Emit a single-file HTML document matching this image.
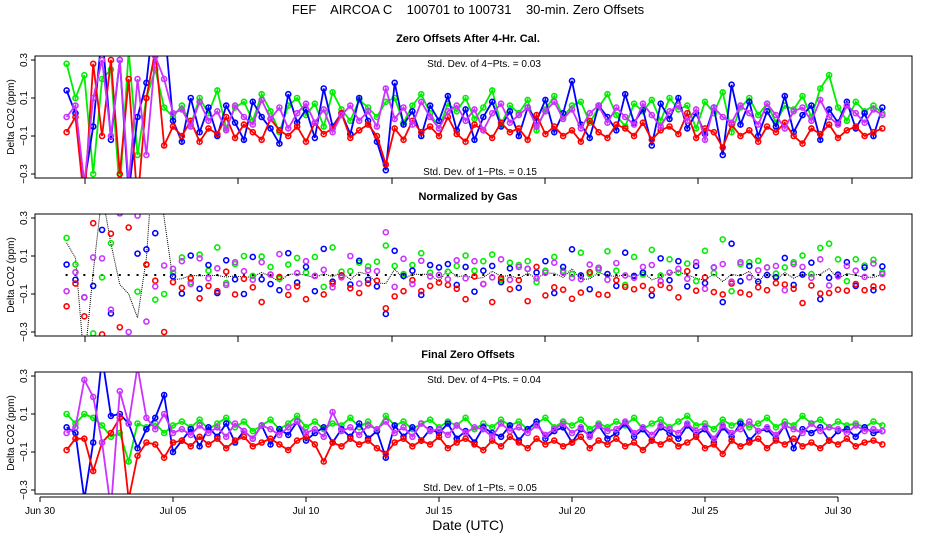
<!DOCTYPE html>
<html><head><meta charset="utf-8"><style>
body{margin:0;background:#fff;}
svg{display:block;font-family:"Liberation Sans",sans-serif;}
#main-title{white-space:pre;}
</style></head><body>
<svg id="chart" width="936" height="540" viewBox="0 0 936 540">
<text id="main-title" x="468" y="14" font-size="13" text-anchor="middle" xml:space="preserve">FEF    AIRCOA C    100701 to 100731    30-min. Zero Offsets</text>
<text x="468" y="530" font-size="14" text-anchor="middle">Date (UTC)</text>
</svg>
<script>
const startDay = 1.0, stepDay = 1/3;
const xTickLabels = ["Jun 30","Jul 05","Jul 10","Jul 15","Jul 20","Jul 25","Jul 30"];
const xTickDays = [0,5,10,15,20,25,30];
const yTicks = [0.3,0.1,-0.1,-0.3];
const yTickLabels = ["0.3","0.1","\u22120.1","\u22120.3"];
const blue1 = [0.14,0.02,-0.35,-0.05,0.45,-0.12,0.3,-0.4,0.0,0.18,0.6,0.5,-0.02,-0.13,0.1,-0.08,0.05,-0.1,0.06,-0.03,-0.12,0.08,0.0,-0.06,-0.14,0.12,-0.03,0.04,-0.11,0.15,-0.05,0.02,-0.09,0.1,-0.02,-0.13,-0.28,0.18,-0.04,0.03,-0.1,0.06,-0.02,0.11,-0.07,0.04,-0.12,0.0,0.08,-0.05,0.03,-0.1,0.05,-0.02,0.09,-0.08,0.02,0.19,-0.04,-0.11,0.06,0.0,-0.07,0.12,-0.03,0.04,-0.15,0.07,-0.01,0.1,-0.06,0.02,-0.09,0.05,-0.2,0.17,-0.04,0.08,-0.1,0.03,-0.05,0.11,-0.08,0.01,0.06,-0.12,0.04,-0.03,0.08,-0.06,0.02,-0.1,0.05];
const green1 = [0.28,0.1,0.22,-0.3,0.2,0.25,-0.4,0.35,-0.2,0.1,0.25,0.05,0.0,0.06,-0.04,0.1,0.02,0.14,-0.06,0.05,0.08,-0.02,0.12,0.03,-0.08,0.06,0.1,0.01,0.07,-0.05,0.13,0.04,-0.02,0.09,0.05,0.0,0.08,0.1,-0.03,0.06,0.12,0.02,-0.06,0.07,0.03,0.1,-0.01,0.05,0.14,-0.04,0.06,0.02,0.09,-0.07,0.04,0.11,0.0,0.06,0.08,-0.03,0.05,0.12,0.01,-0.05,0.07,0.03,0.09,-0.02,0.1,0.04,0.06,-0.06,0.08,0.02,0.13,-0.08,0.05,0.1,0.01,0.07,-0.03,0.06,0.04,0.11,0.0,0.15,0.22,0.05,-0.02,0.08,0.03,0.06,0.02];
const red1 = [-0.08,0.0,-0.45,0.28,-0.1,0.3,-0.3,0.2,-0.45,0.1,0.35,-0.15,-0.05,-0.1,-0.02,-0.13,-0.06,-0.09,0.0,-0.11,-0.04,-0.08,-0.12,-0.01,-0.07,-0.1,-0.05,-0.13,-0.03,-0.09,-0.06,0.02,-0.11,-0.07,-0.04,-0.1,-0.25,-0.06,-0.12,-0.02,-0.08,-0.05,-0.1,0.0,-0.09,-0.13,-0.04,-0.07,-0.11,-0.03,-0.08,-0.06,-0.12,0.01,-0.09,-0.05,-0.1,-0.07,-0.13,-0.02,-0.08,-0.11,-0.04,-0.06,-0.1,-0.03,-0.12,-0.07,-0.05,-0.09,0.02,-0.11,-0.06,-0.08,-0.16,-0.04,-0.1,-0.07,-0.13,-0.05,-0.08,-0.03,-0.1,-0.14,-0.06,-0.09,-0.04,-0.11,-0.07,-0.05,-0.1,-0.08,-0.06];
const magenta1 = [0.0,0.06,-0.35,0.1,0.3,-0.1,0.3,-0.35,0.2,-0.2,0.32,0.2,0.02,0.04,-0.05,0.08,-0.02,0.03,-0.07,0.06,0.0,-0.04,0.09,-0.01,0.05,-0.06,0.02,0.07,-0.03,0.04,-0.08,0.01,0.06,-0.02,0.03,-0.05,0.15,-0.01,0.05,-0.04,0.08,0.0,-0.06,0.03,0.06,-0.02,0.04,-0.07,0.02,0.07,-0.03,0.01,0.05,-0.05,0.03,0.08,-0.01,0.04,-0.06,0.02,0.06,-0.03,0.05,0.0,-0.04,0.07,0.01,-0.05,0.03,0.06,-0.02,0.04,-0.12,0.05,0.0,-0.03,0.06,0.02,-0.04,0.07,0.01,-0.06,0.03,0.05,-0.02,0.09,0.0,-0.04,0.06,0.02,-0.03,0.04,0.01];
const blue3 = [0.03,0.0,-0.35,-0.05,0.4,0.09,0.1,0.05,-0.08,0.02,0.08,0.2,-0.1,-0.04,0.02,-0.07,0.03,-0.02,0.05,-0.05,0.01,-0.03,0.04,-0.06,0.02,-0.01,0.06,-0.04,0.0,0.03,-0.05,0.02,-0.02,0.05,-0.03,0.01,-0.13,0.04,-0.02,0.03,-0.04,0.02,0.0,0.05,-0.03,0.01,-0.05,0.03,0.0,-0.02,0.04,-0.04,0.02,0.06,-0.03,0.01,0.03,-0.05,0.02,-0.01,0.04,-0.03,0.0,0.05,-0.02,0.02,-0.04,0.03,0.0,-0.03,0.04,-0.01,0.02,-0.05,0.03,-0.02,0.05,-0.04,0.01,0.02,-0.03,0.04,-0.08,0.02,0.0,0.03,-0.04,0.01,0.02,-0.02,0.03,0.0,0.01];
const green3 = [0.1,0.05,0.1,0.08,0.04,-0.02,0.0,-0.15,0.05,0.03,0.05,0.0,0.04,0.06,0.03,0.07,0.02,0.05,0.08,0.03,0.06,0.01,0.04,0.07,0.02,0.05,0.09,0.03,0.06,0.02,0.05,0.04,0.08,0.03,0.06,0.01,0.09,0.04,0.06,0.02,0.05,0.07,0.03,0.06,0.04,0.08,0.02,0.05,0.03,0.07,0.04,0.06,0.02,0.05,0.08,0.03,0.06,0.04,0.07,0.02,0.05,0.03,0.06,0.04,0.08,0.02,0.05,0.07,0.03,0.06,0.09,0.04,0.05,0.02,0.07,0.04,0.06,0.03,0.05,0.08,0.03,0.06,0.04,0.09,0.05,0.07,0.03,0.06,0.04,0.05,0.03,0.06,0.04];
const red3 = [-0.09,-0.03,-0.03,-0.2,-0.05,0.0,0.08,-0.35,-0.12,-0.05,-0.06,-0.13,-0.05,-0.04,-0.07,-0.02,-0.06,-0.03,-0.08,-0.04,-0.02,-0.07,-0.05,-0.03,-0.06,-0.09,-0.04,-0.02,-0.06,-0.15,-0.05,-0.07,-0.03,-0.06,-0.04,-0.08,-0.11,-0.05,-0.03,-0.07,-0.04,-0.06,-0.02,-0.08,-0.05,-0.03,-0.06,-0.09,-0.04,-0.07,-0.02,-0.05,-0.08,-0.03,-0.06,-0.04,-0.07,-0.05,-0.02,-0.08,-0.04,-0.06,-0.03,-0.07,-0.05,-0.09,-0.04,-0.06,-0.03,-0.07,-0.05,-0.02,-0.08,-0.06,-0.11,-0.04,-0.07,-0.05,-0.03,-0.08,-0.04,-0.06,-0.03,-0.07,-0.05,-0.08,-0.04,-0.06,-0.03,-0.07,-0.05,-0.04,-0.06];
const magenta3 = [0.0,0.03,0.28,0.19,-0.05,-0.4,0.22,0.05,0.35,0.08,0.02,0.1,0.0,0.02,-0.01,0.04,0.0,0.03,-0.02,0.05,0.01,-0.03,0.04,0.02,-0.01,0.03,0.06,0.0,0.02,-0.02,0.11,0.01,0.03,-0.01,0.04,0.02,0.06,0.0,0.03,-0.02,0.05,0.01,0.02,-0.01,0.04,0.0,0.03,0.02,-0.02,0.05,0.01,0.03,0.0,0.04,-0.01,0.02,0.05,0.0,0.03,-0.02,0.04,0.01,0.02,0.06,0.0,0.03,-0.01,0.04,0.02,0.0,0.05,0.01,0.03,-0.03,0.04,0.0,0.02,0.06,0.01,0.03,-0.01,0.04,0.02,0.0,0.05,0.01,0.03,0.02,0.0,0.04,0.01,0.02,0.01];

const NS="http://www.w3.org/2000/svg";
const svg=document.getElementById('chart');
const X0=40, PXD=26.6;
const xScale=d=>X0+d*PXD;
function mk(tag,attrs,parent){const e=document.createElementNS(NS,tag);for(const k in attrs)e.setAttribute(k,attrs[k]);(parent||svg).appendChild(e);return e;}
const L=35,R=912;
const panels=[
 {top:56,bot:178,title:"Zero Offsets After 4-Hr. Cal.",s4:"0.03",s1:"0.15",series:[green1,blue1,red1,magenta1],lines:true,name:"panel-after-cal"},
 {top:214,bot:336,title:"Normalized by Gas",series:null,lines:false,name:"panel-normalized"},
 {top:372,bot:494,title:"Final Zero Offsets",s4:"0.04",s1:"0.05",series:[green3,blue3,red3,magenta3],lines:true,name:"panel-final"}
];
const colors=["#00ee00","#0000ff","#ff0000","#cc33ff"];
const snames=["green","blue","red","magenta"];
const meanArr=blue1.map((v,i)=>(v+green1[i]+red1[i]+magenta1[i])/4);
panels[1].series=[green1,blue1,red1,magenta1].map(a=>a.map((v,i)=>v-meanArr[i]));

panels.forEach((p,pi)=>{
  const g=mk('g',{});
  
  
  const yS=v=>p.top+4+(0.3-v)/0.6*(p.bot-p.top-8);
  const cp=mk('clipPath',{id:'cp'+pi},g);mk('rect',{x:L,y:p.top,width:R-L,height:p.bot-p.top},cp);
  const t=mk('text',{x:468,y:p.top-14,'font-size':11,'font-weight':'bold','text-anchor':'middle'},g);t.textContent=p.title;
  
  
  const yl=mk('text',{x:0,y:0,'font-size':10,'text-anchor':'middle',transform:`translate(14,${(p.top+p.bot)/2}) rotate(-90)`},g);yl.textContent="Delta CO2 (ppm)";
  
  
  yTicks.forEach((v,i)=>{
    mk('line',{x1:L-4,x2:L,y1:yS(v),y2:yS(v),stroke:'#000'},g);
    const tl=mk('text',{x:0,y:0,'font-size':10,'text-anchor':'middle',transform:`translate(${L-8},${yS(v)}) rotate(-90)`},g);tl.textContent=yTickLabels[i];
    
    
  });
  const body=mk('g',{'clip-path':`url(#cp${pi})`},g);
  if(pi===1){
    let d='';
    meanArr.forEach((v,i)=>{const x=xScale(startDay+i*stepDay);d+=(i?'L':'M')+x+','+yS(i<13?v*2:v*0.6);});
    const pl=mk('path',{d,fill:'none',stroke:'#000','stroke-width':1,'stroke-dasharray':'1,1'},body);
    
    
    meanArr.forEach((v,i)=>{const x=xScale(startDay+i*stepDay);
      const c=mk('rect',{x:x-1,y:yS(0)-1,width:2,height:2,fill:'#000'},body);
      
      });
  }
  p.series.forEach((arr,si)=>{
    if(p.lines){
      let d='';arr.forEach((v,i)=>{d+=(i?'L':'M')+xScale(startDay+i*stepDay)+','+yS(v);});
      const pl=mk('path',{d,fill:'none',stroke:colors[si],'stroke-width':1.8},body);
      
      
    }
    arr.forEach((v,i)=>{
      const c=mk('circle',{cx:xScale(startDay+i*stepDay),cy:yS(v),r:2.5,fill:'none',stroke:colors[si],'stroke-width':1.6},body);
      
      
    });
  });
  mk('rect',{x:L,y:p.top,width:R-L,height:p.bot-p.top,fill:'none',stroke:'#000','stroke-width':1},g);
  if(p.s4){
    const a=mk('text',{x:484,y:p.top+11,'font-size':10,'text-anchor':'middle'},g);a.textContent="Std. Dev. of 4\u2212Pts. =  "+p.s4;
    
    
    const b=mk('text',{x:480,y:p.bot-3,'font-size':10,'text-anchor':'middle'},g);b.textContent="Std. Dev. of 1\u2212Pts. =  "+p.s1;
    
    
  }
  if(pi<2){
    [85,238,392,545,698,852].forEach(x=>mk('line',{x1:x,x2:x,y1:p.bot,y2:p.bot+6,stroke:'#000'},g));
  }else{
    mk('line',{x1:xScale(0),x2:xScale(30),y1:p.bot+3,y2:p.bot+3,stroke:'#000'},g);
    xTickDays.forEach((d,i)=>{
      mk('line',{x1:xScale(d),x2:xScale(d),y1:p.bot+3,y2:p.bot+8,stroke:'#000'},g);
      const tl=mk('text',{x:xScale(d),y:p.bot+20,'font-size':10,'text-anchor':'middle'},g);tl.textContent=xTickLabels[i];
      
      
    });
  }
});
</script>
</body></html>
